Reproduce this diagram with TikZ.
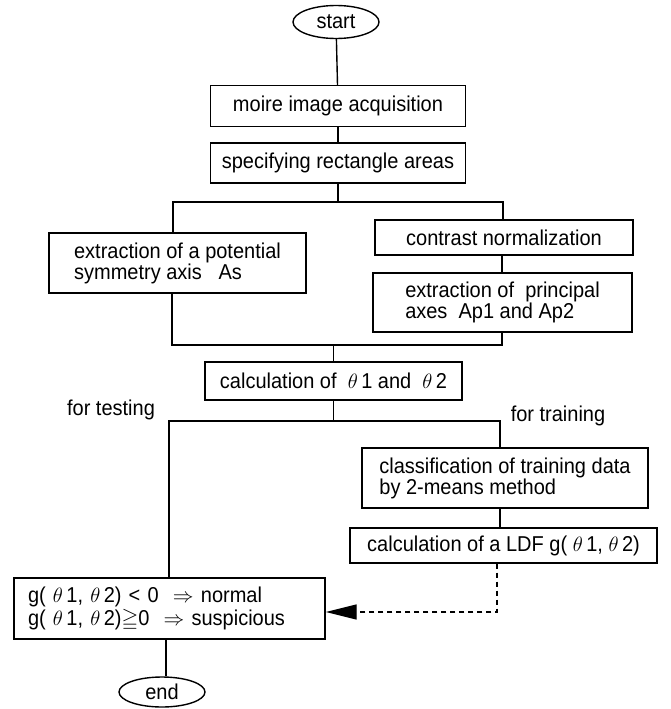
\documentclass[tikz,border=0pt]{standalone}
\usepackage{amssymb}
\usepackage{fontspec}
\setmainfont{Liberation Sans}[FakeStretch=0.93]
\usetikzlibrary{arrows.meta,shapes.geometric}
\newcommand{\thx}{$\theta\,$}
\begin{document}
\begin{tikzpicture}[x=1pt,y=-1pt,
  every node/.style={font=\fontsize{21.5}{21}\selectfont},
  box/.style={draw,line width=1.4pt,inner sep=0pt,align=left},
  oval/.style={draw,ellipse,line width=1.4pt,inner sep=0pt},
  conn/.style={line width=1.4pt},
  lbl/.style={inner sep=0pt}]
\useasboundingbox (0,0) rectangle (671,709);
% nodes
\node[oval,minimum width=86pt,minimum height=33pt] (start) at (336,22) {start};
\node[box,minimum width=255pt,minimum height=41pt] (moire) at (338,106) {moire image acquisition};
\node[box,minimum width=255pt,minimum height=40pt] (spec) at (338,163) {specifying rectangle areas};
\node[box,minimum width=257pt,minimum height=60pt] (sym) at (177.5,263) {extraction of a potential\\symmetry axis \ \ As};
\node[box,minimum width=258pt,minimum height=35pt] (con) at (504,237.5) {contrast normalization};
\node[box,minimum width=259pt,minimum height=59pt] (prin) at (502.5,302.5) {extraction of \ principal\\axes \ Ap1 and Ap2};
\node[box,minimum width=257pt,minimum height=38pt] (calc) at (333.5,381) {calculation of \ \thx1 and \ \thx2};
\node[lbl] (test) at (111,410) {for testing};
\node[lbl] (train) at (558,416) {for training};
\node[box,minimum width=286pt,minimum height=60pt] (cls) at (505,478) {classification of training data\\by 2-means method};
\node[box,minimum width=307pt,minimum height=35pt] (ldf) at (503.5,545.5) {calculation of a LDF g( \thx1, \thx2)};
\node[box,text width=283pt,inner xsep=14pt,minimum height=61pt,font=\fontsize{21.5}{23}\selectfont] (g) at (169.5,608.5) {g( \thx1, \thx2) < 0 \ $\Rightarrow$ normal\\g( \thx1, \thx2)$\geqq$0 \ $\Rightarrow$ suspicious};
\node[oval,minimum width=86pt,minimum height=30pt] (end) at (162,692) {end};
% junction coordinates
\coordinate (sL) at (173,202);
\coordinate (sR) at (503,202);
\coordinate (mL) at (172,345);
\coordinate (mR) at (502,345);
\coordinate (tL) at (169,421);
\coordinate (tR) at (500,421);
\coordinate (gE) at (166,650);
\coordinate (dC) at (497,612);
% connectors
\draw[conn] (start) -- (moire);
\draw[conn] (moire) -- (spec);
\draw[conn] (spec.south) -- (spec.south |- sL);
\draw[conn] (sL |- sym.north) -- (sL) -- (sR) -- (sR |- con.north);
\draw[conn] (con.south -| mR) -- (prin.north -| mR);
\draw[conn] (sym.south -| mL) -- (mL) -- (mR) -- (mR |- prin.south);
\draw[conn] (calc.north) -- (calc.north |- mL);
\draw[conn] (calc.south) -- (calc.south |- tL);
\draw[conn] (g.north -| tL) -- (tL) -- (tR) -- (tR |- cls.north);
\draw[conn] (cls.south -| tR) -- (ldf.north -| tR);
\draw[conn] (g.south -| gE) -- (end.north -| gE);
\draw[line width=1.4pt,dash pattern=on 5pt off 4pt,-{Triangle[length=31pt,width=15pt]}] (ldf.south -| dC) -- (dC) -- (g.east |- dC);
\end{tikzpicture}
\end{document}
